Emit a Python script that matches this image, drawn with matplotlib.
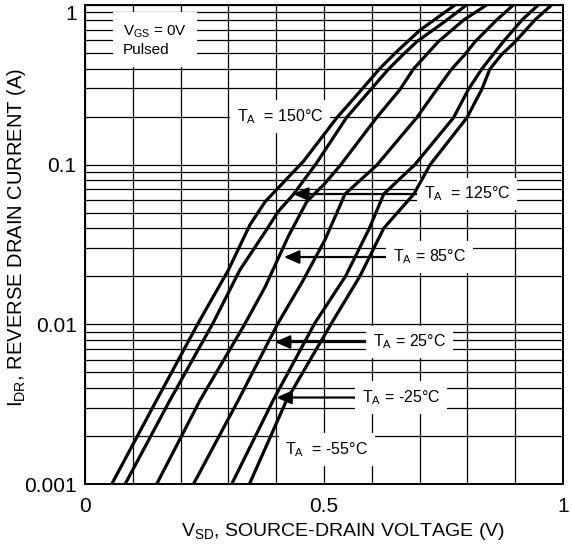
import numpy as np
import matplotlib.pyplot as plt
from matplotlib.ticker import LogLocator, NullFormatter, FixedLocator

plt.rcParams['font.family'] = 'Liberation Sans'
plt.rcParams['mathtext.fontset'] = 'custom'
plt.rcParams['mathtext.rm'] = 'Liberation Sans'
plt.rcParams['mathtext.it'] = 'Liberation Sans:italic'

# curves: V_SD (V) vs I_DR (A)
v_150 = [0.056, 0.150, 0.237, 0.300, 0.345, 0.377, 0.457, 0.527, 0.579, 0.617, 0.652, 0.701, 0.774]
i_150 = [0.001, 0.00336, 0.0102, 0.0219, 0.042, 0.0587, 0.105, 0.197, 0.296, 0.401, 0.510, 0.697, 1.0]

v_125 = [0.084, 0.178, 0.268, 0.324, 0.377, 0.404, 0.435, 0.484, 0.547, 0.598, 0.635, 0.666, 0.694, 0.757, 0.798]
i_125 = [0.001, 0.00336, 0.0102, 0.0219, 0.038, 0.0508, 0.0646, 0.102, 0.197, 0.296, 0.397, 0.491, 0.589, 0.805, 1.0]

v_85 = [0.150, 0.241, 0.334, 0.377, 0.425, 0.464, 0.502, 0.534, 0.610, 0.659, 0.687, 0.715, 0.739, 0.792, 0.840]
i_85 = [0.001, 0.00336, 0.01, 0.0172, 0.0354, 0.0587, 0.0764, 0.099, 0.197, 0.296, 0.397, 0.491, 0.589, 0.805, 1.0]

v_25 = [0.227, 0.321, 0.404, 0.453, 0.502, 0.544, 0.610, 0.694, 0.736, 0.767, 0.795, 0.816, 0.861, 0.896]
i_25 = [0.001, 0.00336, 0.0102, 0.0181, 0.0338, 0.0655, 0.099, 0.197, 0.296, 0.397, 0.491, 0.589, 0.805, 1.0]

v_m25 = [0.307, 0.394, 0.481, 0.545, 0.595, 0.625, 0.690, 0.771, 0.802, 0.830, 0.854, 0.875, 0.914, 0.948]
i_m25 = [0.001, 0.00336, 0.0102, 0.02, 0.04, 0.0655, 0.1, 0.197, 0.296, 0.397, 0.491, 0.589, 0.805, 1.0]

v_m55 = [0.344, 0.422, 0.516, 0.575, 0.625, 0.688, 0.722, 0.799, 0.830, 0.847, 0.872, 0.900, 0.941, 0.976]
i_m55 = [0.001, 0.00336, 0.0102, 0.02, 0.04, 0.0655, 0.1, 0.197, 0.296, 0.397, 0.491, 0.589, 0.805, 1.0]

temps = ['150', '125', '85', '25', '-25', '-55']
x_ticks = [0, 0.5, 1]
x_ticklabels = ['0', '0.5', '1']
y_ticks = [0.001, 0.01, 0.1, 1]
y_ticklabels = ['0.001', '0.01', '0.1', '1']

fig = plt.figure(figsize=(5.72, 5.5), dpi=100)
ax = fig.add_axes([0.1486, 0.12, 0.8357, 0.8709])

curves = [(v_150, i_150), (v_125, i_125), (v_85, i_85),
          (v_25, i_25), (v_m25, i_m25), (v_m55, i_m55)]
for v, i in curves:
    ax.plot(v, i, color='black', lw=2.3, zorder=4, solid_capstyle='butt')

ax.set_yscale('log')
ax.set_xlim(0, 1)
ax.set_ylim(0.001, 1)

ax.xaxis.set_major_locator(FixedLocator(x_ticks))
ax.set_xticklabels(x_ticklabels)
ax.xaxis.set_minor_locator(FixedLocator(np.arange(0.1, 1.0, 0.1)))
ax.yaxis.set_major_locator(FixedLocator(y_ticks))
ax.set_yticklabels(y_ticklabels)
ax.yaxis.set_minor_locator(LogLocator(base=10, subs=np.arange(2, 10)))
ax.yaxis.set_minor_formatter(NullFormatter())
# top label "1" sits just under the frame
ax.get_yticklabels()[-1].set_va('top')

ax.tick_params(which='both', length=0, labelsize=15)
ax.tick_params(axis='x', pad=9)
ax.tick_params(axis='y', pad=6)
ax.grid(which='both', color='black', lw=0.9)
ax.set_axisbelow(True)
for s in ax.spines.values():
    s.set_linewidth(1.4)

ax.set_xlabel(r'V$_{\mathrm{SD}}$, SOURCE-DRAIN VOLTAGE (V)', fontsize=14)
ax.set_ylabel(r'I$_{\mathrm{DR}}$, REVERSE DRAIN CURRENT (A)', fontsize=14.5)
ax.xaxis.set_label_coords(0.54, -0.077)
ax.yaxis.set_label_coords(-0.119, 0.514)

box = dict(facecolor='white', edgecolor='none', pad=5)
arrow = dict(arrowstyle='-|>,head_length=0.8,head_width=0.35', color='black', lw=1.6,
             shrinkA=0, shrinkB=0)

ax.text(0.08, 0.6, r'V$_{\mathrm{GS}}$ = 0V' + '\nPulsed', fontsize=11, ha='left', va='center',
        bbox=dict(facecolor='white', edgecolor='none', pad=7), zorder=3, linespacing=1.3)

ax.text(0.408, 0.2, r'T$_{\mathrm{A}}$  = ' + temps[0] + '°C', fontsize=11.5,
        ha='center', va='center', bbox=box, zorder=3)
ax.annotate(r'T$_{\mathrm{A}}$  = ' + temps[1] + '°C', xy=(0.435, 0.0655), xytext=(0.799, 0.0655),
            fontsize=11.5, ha='center', va='center', bbox=box, arrowprops=arrow, zorder=3)
ax.annotate(r'T$_{\mathrm{A}}$ = ' + temps[2] + '°C', xy=(0.416, 0.0264), xytext=(0.72, 0.0264),
            fontsize=11.5, ha='center', va='center', bbox=box, arrowprops=arrow, zorder=3)
ax.annotate(r'T$_{\mathrm{A}}$ = ' + temps[3] + '°C', xy=(0.397, 0.00775), xytext=(0.678, 0.00775),
            fontsize=11.5, ha='center', va='center', bbox=box, arrowprops=arrow, zorder=3)
ax.annotate(r'T$_{\mathrm{A}}$ = ' + temps[4] + '°C', xy=(0.400, 0.00348), xytext=(0.661, 0.00348),
            fontsize=11.5, ha='center', va='center', bbox=box, arrowprops=arrow, zorder=3)
ax.text(0.506, 0.00164, r'T$_{\mathrm{A}}$  = ' + temps[5] + '°C', fontsize=11.5,
        ha='center', va='center', bbox=box, zorder=3)

fig.savefig('out.png', dpi=100)
